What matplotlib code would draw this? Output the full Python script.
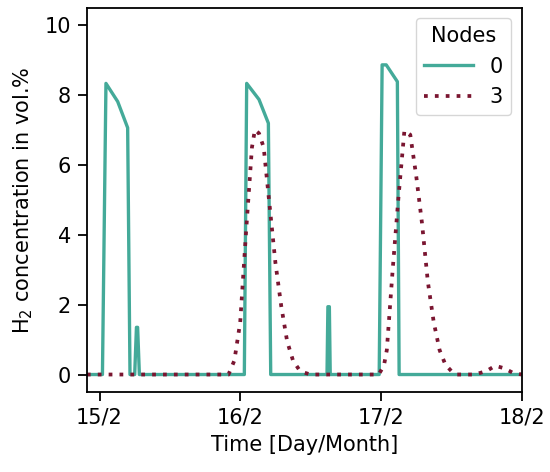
"""H2 concentration at two nodes over three days."""

import matplotlib
matplotlib.use("Agg")
import matplotlib.pyplot as plt

# time in hours after 15/2 00:00
node0_t = [-2.15, 0.5, 1.1, 3.1, 4.8, 5.2, 6.0, 6.3, 6.5, 6.8,
           24.7, 25.1, 27.2, 28.8, 29.2, 38.8, 38.95, 39.2, 39.35,
           47.7, 48.2, 48.9, 50.8, 51.1, 72.0]
node0_h2 = [0, 0, 8.33, 7.81, 7.06, 0, 0, 1.35, 1.35, 0,
            0, 8.33, 7.87, 7.19, 0, 0, 1.94, 1.94, 0,
            0, 8.86, 8.86, 8.38, 0, 0]

node3_t = [-2.15, 22.0, 23.0, 24.0, 25.0, 26.0, 26.5, 27.2, 28.0, 29.0,
           30.0, 31.0, 32.0, 33.0, 34.0, 35.0, 36.0,
           47.6, 48.5, 49.0, 50.0, 51.0, 52.0, 53.0, 54.0, 55.0, 56.0,
           57.0, 58.0, 59.0, 60.0, 61.0, 64.0, 66.0, 67.5, 69.0, 70.5, 72.0]
node3_h2 = [0, 0, 0.4, 1.5, 4.1, 6.5, 7.0, 6.9, 6.5, 4.85,
            3.2, 1.95, 0.95, 0.4, 0.15, 0.05, 0,
            0, 0.25, 0.7, 3.0, 5.1, 6.98, 6.86, 5.7, 4.33, 2.65,
            1.5, 0.7, 0.28, 0.1, 0, 0, 0.1, 0.25, 0.18, 0.05, 0]

day_ticks = [0, 24, 48, 72]
day_labels = ["15/2", "16/2", "17/2", "18/2"]

plt.rcParams["font.size"] = 15
plt.rcParams["axes.linewidth"] = 1.3

fig = plt.figure(figsize=(5.5, 4.72), dpi=100)
ax = fig.add_axes([0.158, 0.1695, 0.7905, 0.8145])

ax.plot(node0_t, node0_h2, color="#44AA99", linewidth=2.4, label="0")
ax.plot(node3_t, node3_h2, color="#7A1530", linewidth=2.7, linestyle=":",
        dashes=(1, 1.9), label="3")

ax.set_xlim(-2.15, 72)
ax.set_ylim(-0.5, 10.5)
ax.set_xticks(day_ticks)
ax.set_xticklabels(day_labels)
ax.set_yticks([0, 2, 4, 6, 8, 10])
ax.tick_params(width=1.3, length=6.5, pad=5)
ax.set_xlabel("Time [Day/Month]", labelpad=5)
ax.set_ylabel("H$_2$ concentration in vol.%", labelpad=7)
ax.legend(title="Nodes", loc="upper right", fontsize=15, title_fontsize=15,
          handlelength=2.35)

fig.savefig("out.png", dpi=100)
